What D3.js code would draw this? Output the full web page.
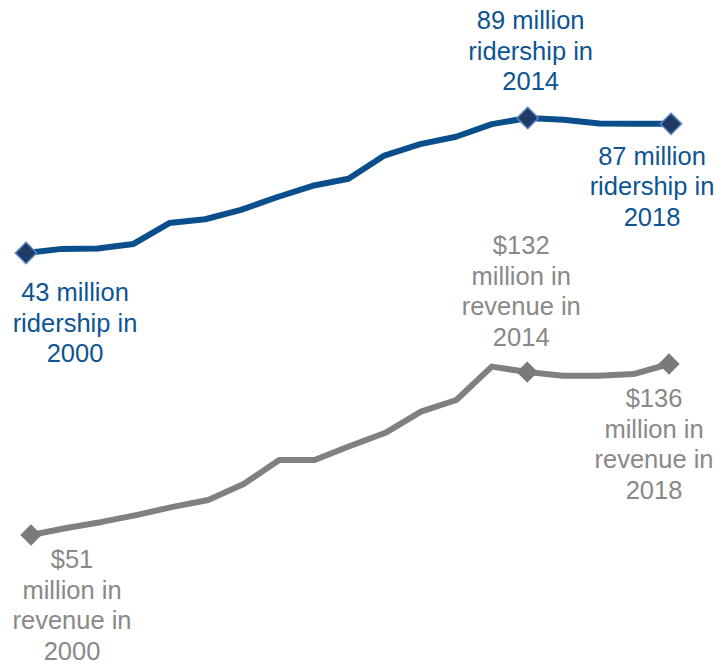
<!DOCTYPE html>
<html>
<head>
<meta charset="utf-8">
<script src="https://cdn.jsdelivr.net/npm/d3@7"></script>
<style>
  html, body { margin: 0; padding: 0; background: #ffffff; }
  svg { display: block; }
  text { font-family: "Liberation Sans", Arial, sans-serif; }
</style>
</head>
<body>
<svg id="chart" width="724" height="664"></svg>
<script>
// Annual values, 2000–2018
const years = [2000, 2001, 2002, 2003, 2004, 2005, 2006, 2007, 2008, 2009,
               2010, 2011, 2012, 2013, 2014, 2015, 2016, 2017, 2018];
// Ridership, millions of trips
const ridership = [43, 44.4, 44.5, 46.1, 53.2, 54.5, 57.7, 62.0, 65.9, 68.3,
                   76.2, 80.1, 82.6, 86.9, 89, 88.4, 87.1, 87.0, 87];
// Fare revenue, millions of dollars
const revenue = [51, 54.5, 57.5, 61, 65, 68.4, 76.3, 88.3, 88.3, 95.2,
                 101.8, 112.3, 118.1, 134.7, 132, 130.2, 130.2, 131, 136];

// Callouts: year of the point and the lines of its label
const ridershipNotes = [
  { year: 2000, lines: ["43 million", "ridership in", "2000"] },
  { year: 2014, lines: ["89 million", "ridership in", "2014"] },
  { year: 2018, lines: ["87 million", "ridership in", "2018"] }
];
const revenueNotes = [
  { year: 2000, lines: ["$51", "million in", "revenue in", "2000"] },
  { year: 2014, lines: ["$132", "million in", "revenue in", "2014"] },
  { year: 2018, lines: ["$136", "million in", "revenue in", "2018"] }
];

const svg = d3.select("#chart");
const LINE_H = 30.5;
const FONT = 25.5;

const xTop = d3.scaleLinear().domain([2000, 2018]).range([26, 671]);
const yTop = d3.scaleLinear().domain([43, 89]).range([253, 118]);
const xBot = d3.scaleLinear().domain([2000, 2018]).range([31, 669]);
const yBot = d3.scaleLinear().domain([51, 136]).range([535, 364]);

function drawSeries(values, x, y, style) {
  const pts = years.map((yr, i) => ({ year: yr, v: values[i] }));
  const g = svg.append("g");
  g.append("path")
    .datum(pts)
    .attr("fill", "none")
    .attr("stroke", style.line)
    .attr("stroke-width", 6)
    .attr("stroke-linejoin", "round")
    .attr("d", d3.line().x(d => x(d.year)).y(d => y(d.v)));

  const marked = pts.filter(d => style.marks.includes(d.year));
  g.selectAll("path.mark")
    .data(marked)
    .join("path")
    .attr("class", "mark")
    .attr("d", d3.symbol(d3.symbolDiamond2, 290)())
    .attr("transform", d => `translate(${x(d.year)},${y(d.v)})`)
    .attr("fill", style.markFill)
    .attr("stroke", style.markStroke)
    .attr("stroke-width", style.markStroke === "none" ? 0 : 1.5);
  return g;
}

function drawNotes(notes, positions, color) {
  notes.forEach((n, i) => {
    const p = positions[i];
    const t = svg.append("text")
      .attr("fill", color)
      .attr("font-size", FONT)
      .attr("text-anchor", "middle");
    n.lines.forEach((ln, j) => {
      t.append("tspan")
        .attr("x", p.cx)
        .attr("y", p.base + j * LINE_H)
        .text(ln);
    });
  });
}

drawSeries(ridership, xTop, yTop, {
  line: "#0a4f8b",
  markFill: "#1f3a64",
  markStroke: "#5a86c6",
  marks: [2000, 2014, 2018]
});
drawSeries(revenue, xBot, yBot, {
  line: "#808080",
  markFill: "#7a7a7a",
  markStroke: "none",
  marks: [2000, 2014, 2018]
});

// Label anchors are placed relative to each marked point
drawNotes(ridershipNotes, [
  { cx: xTop(2000) + 49, base: yTop(43) + 48 },
  { cx: xTop(2014) + 3,  base: yTop(89) - 89 },
  { cx: xTop(2018) - 19, base: yTop(87) + 41 }
], "#0d5592");

drawNotes(revenueNotes, [
  { cx: xBot(2000) + 41, base: yBot(51) + 33 },
  { cx: xBot(2014) - 6,  base: yBot(132) - 118 },
  { cx: xBot(2018) - 15, base: yBot(136) + 43 }
], "#898989");
</script>
</body>
</html>
